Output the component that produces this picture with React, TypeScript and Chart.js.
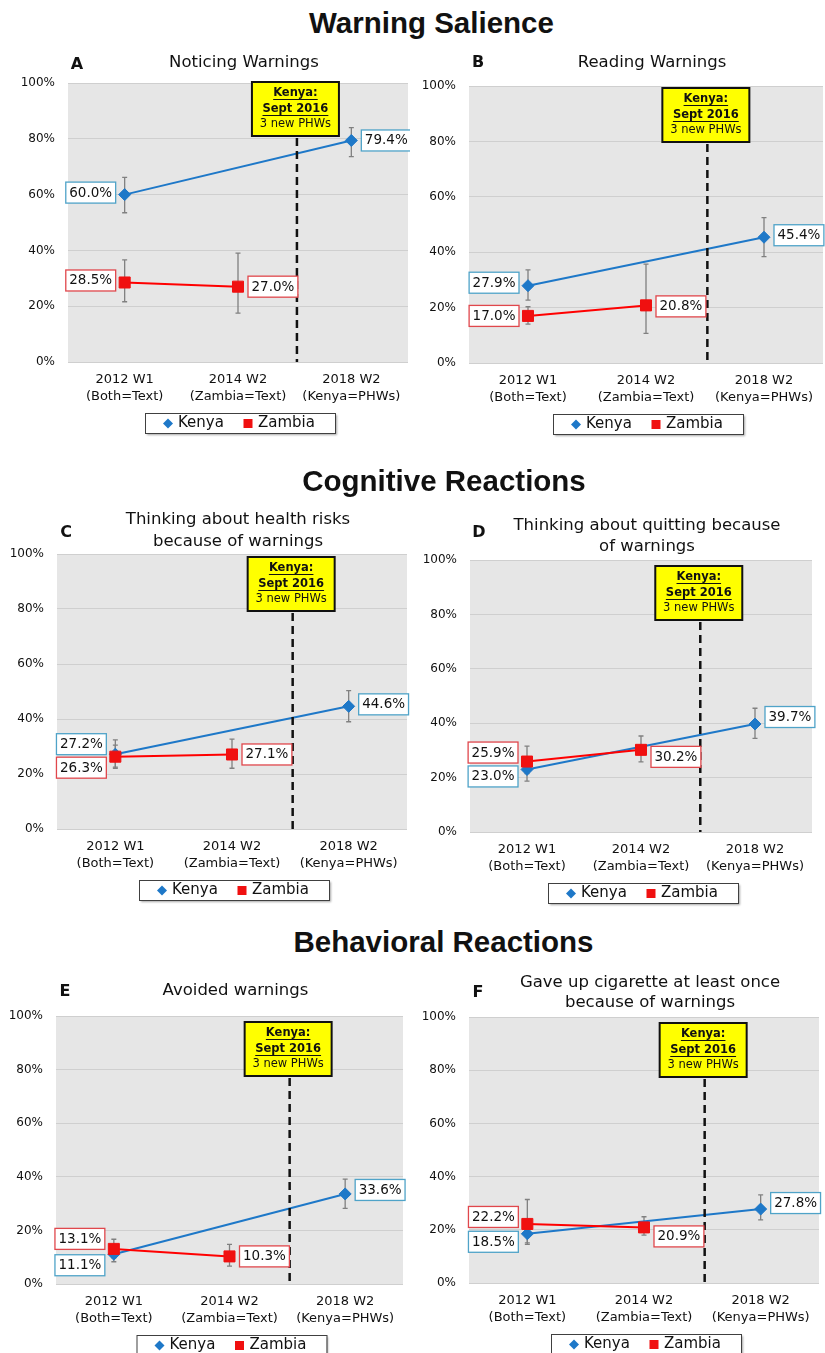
import React, { useEffect, useRef } from 'react';
import { Chart, registerables } from 'chart.js';

Chart.register(...registerables);

// ---------- DATA ----------
const categories: string[][] = [
  ['2012 W1', '(Both=Text)'],
  ['2014 W2', '(Zambia=Text)'],
  ['2018 W2', '(Kenya=PHWs)'],
];
const seriesNames = ['Kenya', 'Zambia'];
const yTickValues = [0, 20, 40, 60, 80, 100];
const sectionTitles = ['Warning Salience', 'Cognitive Reactions', 'Behavioral Reactions'];
const panelLetters = ['A', 'B', 'C', 'D', 'E', 'F'];
const panelTitles: string[][] = [
  ['Noticing Warnings'],
  ['Reading Warnings'],
  ['Thinking about health risks', 'because of warnings'],
  ['Thinking about quitting because', 'of warnings'],
  ['Avoided warnings'],
  ['Gave up cigarette at least once', 'because of warnings'],
];
const annotationLines = ['Kenya:', 'Sept 2016', '3 new PHWs'];
// Sept 2016 sits between the 2014 W2 and 2018 W2 waves on the category axis
const policyChangeIndex = 1.52;

// A: Noticing warnings
const noticingKenya = [60.0, null, 79.4];
const noticingKenyaLow = [53.5, null, 73.6];
const noticingKenyaHigh = [66.2, null, 84.0];
const noticingZambia = [28.5, 27.0, null];
const noticingZambiaLow = [21.6, 17.5, null];
const noticingZambiaHigh = [36.6, 39.0, null];

// B: Reading warnings
const readingKenya = [27.9, null, 45.4];
const readingKenyaLow = [22.7, null, 38.4];
const readingKenyaHigh = [33.6, null, 52.5];
const readingZambia = [17.0, 20.8, null];
const readingZambiaLow = [14.0, 10.7, null];
const readingZambiaHigh = [20.3, 35.7, null];

// C: Thinking about health risks
const risksKenya = [27.2, null, 44.6];
const risksKenyaLow = [22.5, null, 39.0];
const risksKenyaHigh = [32.4, null, 50.3];
const risksZambia = [26.3, 27.1, null];
const risksZambiaLow = [22.1, 22.1, null];
const risksZambiaHigh = [30.5, 32.7, null];

// D: Thinking about quitting
const quittingKenya = [23.0, null, 39.7];
const quittingKenyaLow = [18.7, null, 34.4];
const quittingKenyaHigh = [27.5, null, 45.5];
const quittingZambia = [25.9, 30.2, null];
const quittingZambiaLow = [21.5, 25.8, null];
const quittingZambiaHigh = [31.6, 35.3, null];

// E: Avoided warnings
const avoidedKenya = [11.1, null, 33.6];
const avoidedKenyaLow = [8.3, null, 28.2];
const avoidedKenyaHigh = [14.0, null, 39.1];
const avoidedZambia = [13.1, 10.3, null];
const avoidedZambiaLow = [9.8, 6.7, null];
const avoidedZambiaHigh = [16.7, 14.8, null];

// F: Gave up cigarette
const gaveUpKenya = [18.5, null, 27.8];
const gaveUpKenyaLow = [15.1, null, 23.7];
const gaveUpKenyaHigh = [21.8, null, 33.1];
const gaveUpZambia = [22.2, 20.9, null];
const gaveUpZambiaLow = [14.5, 18.0, null];
const gaveUpZambiaHigh = [31.4, 24.9, null];

// ---------- STYLE / LAYOUT ----------
const FONT = '"DejaVu Sans", "Liberation Sans", sans-serif';
const KENYA = '#1E78C8';
const ZAMBIA = '#F01010';
const KENYA_LABEL_BORDER = '#4FA3C8';
const ZAMBIA_LABEL_BORDER = '#E0474C';
const PLOT_BG = '#E6E6E6';
const GRID = '#CFCFCF';
const YW = 50;
const XH = 45;

type Rect = { x: number; y: number; w: number; h: number };
type Plot = { l: number; t: number; r: number; b: number };

interface PanelCfg {
  index: number;
  canvas: Rect;
  plot: Plot;
  titleY: number[];
  letterY: number;
  boxTop: number;
  kenya: (number | null)[];
  kenyaLow: (number | null)[];
  kenyaHigh: (number | null)[];
  zambia: (number | null)[];
  zambiaLow: (number | null)[];
  zambiaHigh: (number | null)[];
  kenyaDy: number[];
  zambiaDy: number[];
}

const panels: PanelCfg[] = [
  {
    index: 0, canvas: { x: 0, y: 40, w: 410, h: 400 }, plot: { l: 68, t: 83, r: 408, b: 362 },
    titleY: [63], letterY: 65, boxTop: 82,
    kenya: noticingKenya, kenyaLow: noticingKenyaLow, kenyaHigh: noticingKenyaHigh,
    zambia: noticingZambia, zambiaLow: noticingZambiaLow, zambiaHigh: noticingZambiaHigh,
    kenyaDy: [-2, 0, 0], zambiaDy: [-2, 0, 0],
  },
  {
    index: 1, canvas: { x: 410, y: 40, w: 415, h: 400 }, plot: { l: 469, t: 86, r: 823, b: 363 },
    titleY: [63], letterY: 63, boxTop: 88,
    kenya: readingKenya, kenyaLow: readingKenyaLow, kenyaHigh: readingKenyaHigh,
    zambia: readingZambia, zambiaLow: readingZambiaLow, zambiaHigh: readingZambiaHigh,
    kenyaDy: [-3, 0, -2], zambiaDy: [0, 1, 0],
  },
  {
    index: 2, canvas: { x: 0, y: 495, w: 410, h: 420 }, plot: { l: 57, t: 554, r: 407, b: 829 },
    titleY: [520, 542], letterY: 533, boxTop: 557,
    kenya: risksKenya, kenyaLow: risksKenyaLow, kenyaHigh: risksKenyaHigh,
    zambia: risksZambia, zambiaLow: risksZambiaLow, zambiaHigh: risksZambiaHigh,
    kenyaDy: [-10, 0, -2], zambiaDy: [11, 0, 0],
  },
  {
    index: 3, canvas: { x: 410, y: 495, w: 415, h: 420 }, plot: { l: 470, t: 560, r: 812, b: 832 },
    titleY: [526, 547], letterY: 533, boxTop: 566,
    kenya: quittingKenya, kenyaLow: quittingKenyaLow, kenyaHigh: quittingKenyaHigh,
    zambia: quittingZambia, zambiaLow: quittingZambiaLow, zambiaHigh: quittingZambiaHigh,
    kenyaDy: [7, 0, -7], zambiaDy: [-9, 7, 0],
  },
  {
    index: 4, canvas: { x: 0, y: 960, w: 410, h: 393 }, plot: { l: 56, t: 1016, r: 403, b: 1284 },
    titleY: [991], letterY: 992, boxTop: 1022,
    kenya: avoidedKenya, kenyaLow: avoidedKenyaLow, kenyaHigh: avoidedKenyaHigh,
    zambia: avoidedZambia, zambiaLow: avoidedZambiaLow, zambiaHigh: avoidedZambiaHigh,
    kenyaDy: [11, 0, -4], zambiaDy: [-10, 0, 0],
  },
  {
    index: 5, canvas: { x: 410, y: 960, w: 415, h: 393 }, plot: { l: 469, t: 1017, r: 819, b: 1283 },
    titleY: [983, 1003], letterY: 993, boxTop: 1023,
    kenya: gaveUpKenya, kenyaLow: gaveUpKenyaLow, kenyaHigh: gaveUpKenyaHigh,
    zambia: gaveUpZambia, zambiaLow: gaveUpZambiaLow, zambiaHigh: gaveUpZambiaHigh,
    kenyaDy: [8, 0, -6], zambiaDy: [-7, 9, 0],
  },
];

const sectionLayout = [
  { cx: 431.5, top: 8 },
  { cx: 444, top: 466 },
  { cx: 443.5, top: 927 },
];

function makeDecor(cfg: PanelCfg) {
  const oy = cfg.canvas.y;
  return {
    id: 'panelDecor' + cfg.index,
    beforeDraw(chart: any) {
      const { ctx, chartArea: a } = chart;
      ctx.save();
      ctx.fillStyle = PLOT_BG;
      ctx.fillRect(a.left, a.top, a.right - a.left, a.bottom - a.top);
      ctx.restore();
    },
    beforeDatasetsDraw(chart: any) {
      const { ctx } = chart;
      const ys = chart.scales.y;
      ctx.save();
      ctx.strokeStyle = '#808080';
      ctx.lineWidth = 1.3;
      chart.data.datasets.forEach((ds: any, di: number) => {
        const meta = chart.getDatasetMeta(di);
        ds.data.forEach((v: number | null, i: number) => {
          if (v == null || ds.low[i] == null) return;
          const x = meta.data[i].x;
          const y1 = ys.getPixelForValue(ds.low[i]);
          const y2 = ys.getPixelForValue(ds.high[i]);
          ctx.beginPath();
          ctx.moveTo(x, y1); ctx.lineTo(x, y2);
          ctx.moveTo(x - 2.5, y1); ctx.lineTo(x + 2.5, y1);
          ctx.moveTo(x - 2.5, y2); ctx.lineTo(x + 2.5, y2);
          ctx.stroke();
        });
      });
      ctx.restore();
    },
    afterDatasetsDraw(chart: any) {
      const { ctx, chartArea: a } = chart;
      const xs = chart.scales.x;
      const ys = chart.scales.y;
      const dashX = xs.getPixelForValue(policyChangeIndex);
      const boxW = 87;
      const boxH = 54;
      const boxL = dashX - 45;
      const boxT = cfg.boxTop - oy;
      ctx.save();
      // dashed vertical line
      ctx.strokeStyle = '#111';
      ctx.lineWidth = 2.5;
      ctx.setLineDash([8, 5]);
      ctx.beginPath();
      ctx.moveTo(dashX, boxT + boxH + 2);
      ctx.lineTo(dashX, a.bottom);
      ctx.stroke();
      ctx.setLineDash([]);
      // yellow annotation box
      ctx.fillStyle = '#FFFF00';
      ctx.fillRect(boxL, boxT, boxW, boxH);
      ctx.strokeStyle = '#111';
      ctx.lineWidth = 2;
      ctx.strokeRect(boxL, boxT, boxW, boxH);
      const cx = boxL + boxW / 2;
      const lineYs = [boxT + 11, boxT + 27, boxT + 42.5];
      ctx.textAlign = 'center';
      ctx.textBaseline = 'middle';
      ctx.fillStyle = '#111';
      annotationLines.forEach((t, i) => {
        const bold = i < 2;
        ctx.font = (bold ? 'bold ' : '') + '11.5px ' + FONT;
        ctx.fillText(t, cx, lineYs[i]);
        if (bold) {
          const w = ctx.measureText(t).width;
          ctx.lineWidth = 1;
          ctx.strokeStyle = '#111';
          ctx.beginPath();
          ctx.moveTo(cx - w / 2, lineYs[i] + 6.5);
          ctx.lineTo(cx + w / 2, lineYs[i] + 6.5);
          ctx.stroke();
        }
      });
      // data labels
      ctx.font = '13.5px ' + FONT;
      chart.data.datasets.forEach((ds: any, di: number) => {
        const meta = chart.getDatasetMeta(di);
        ds.data.forEach((v: number | null, i: number) => {
          if (v == null) return;
          const pt = meta.data[i];
          const text = v.toFixed(1) + '%';
          const tw = ctx.measureText(text).width;
          const bw = tw + 7;
          const bh = 21;
          const cy = ys.getPixelForValue(v) + ds.labelDy[i];
          const bx = i === 0 ? pt.x - 9 - bw : pt.x + 10;
          ctx.fillStyle = '#FFFFFF';
          ctx.fillRect(bx, cy - bh / 2, bw, bh);
          ctx.strokeStyle = ds.labelBorder;
          ctx.lineWidth = 1.3;
          ctx.strokeRect(bx, cy - bh / 2, bw, bh);
          ctx.fillStyle = '#111';
          ctx.textAlign = 'center';
          ctx.textBaseline = 'middle';
          ctx.fillText(text, bx + bw / 2, cy + 0.5);
        });
      });
      ctx.restore();
    },
    afterDraw(chart: any) {
      const { ctx, chartArea: a } = chart;
      const pcx = (a.left + a.right) / 2;
      ctx.save();
      // panel title
      ctx.fillStyle = '#111';
      ctx.textAlign = 'center';
      ctx.textBaseline = 'middle';
      ctx.font = '16.5px ' + FONT;
      panelTitles[cfg.index].forEach((t, i) => {
        ctx.fillText(t, pcx + 6, cfg.titleY[i] - oy);
      });
      // panel letter
      ctx.font = 'bold 16px ' + FONT;
      ctx.fillText(panelLetters[cfg.index], a.left + 9, cfg.letterY - oy);
      // legend
      const lw = 190;
      const lh = 20;
      const ll = pcx + 2 - lw / 2;
      const lt = a.bottom + 51;
      ctx.save();
      ctx.shadowColor = 'rgba(0,0,0,0.35)';
      ctx.shadowOffsetX = 1.5;
      ctx.shadowOffsetY = 1.5;
      ctx.shadowBlur = 2;
      ctx.fillStyle = '#FFFFFF';
      ctx.fillRect(ll, lt, lw, lh);
      ctx.restore();
      ctx.strokeStyle = '#404040';
      ctx.lineWidth = 1;
      ctx.strokeRect(ll + 0.5, lt + 0.5, lw, lh);
      const my = lt + lh / 2 + 0.5;
      const ds = chart.data.datasets;
      // Kenya diamond
      ctx.fillStyle = ds[0].borderColor;
      ctx.beginPath();
      ctx.moveTo(ll + 23 - 5, my);
      ctx.lineTo(ll + 23, my - 5);
      ctx.lineTo(ll + 23 + 5, my);
      ctx.lineTo(ll + 23, my + 5);
      ctx.closePath();
      ctx.fill();
      // Zambia square
      ctx.fillStyle = ds[1].pointBackgroundColor;
      ctx.fillRect(ll + 103 - 4.5, my - 4.5, 9, 9);
      ctx.fillStyle = '#111';
      ctx.textAlign = 'left';
      ctx.font = '15px ' + FONT;
      ctx.fillText(ds[0].label, ll + 33, my);
      ctx.fillText(ds[1].label, ll + 113, my);
      ctx.restore();
    },
  };
}

function Panel({ cfg }: { cfg: PanelCfg }) {
  const ref = useRef<HTMLCanvasElement>(null);
  useEffect(() => {
    const c = cfg;
    const pad = {
      left: c.plot.l - c.canvas.x - YW,
      top: c.plot.t - c.canvas.y,
      right: c.canvas.x + c.canvas.w - c.plot.r,
      bottom: c.canvas.y + c.canvas.h - c.plot.b - XH,
    };
    const chart = new Chart(ref.current as HTMLCanvasElement, {
      type: 'line',
      data: {
        labels: categories as any,
        datasets: [
          {
            label: seriesNames[0],
            data: c.kenya,
            low: c.kenyaLow,
            high: c.kenyaHigh,
            labelDy: c.kenyaDy,
            labelBorder: KENYA_LABEL_BORDER,
            borderColor: KENYA,
            backgroundColor: KENYA,
            pointBackgroundColor: KENYA,
            pointBorderColor: KENYA,
            pointStyle: 'rectRot',
            pointRadius: 6,
            pointBorderWidth: 1,
            borderWidth: 2,
            spanGaps: true,
            order: 1,
          } as any,
          {
            label: seriesNames[1],
            data: c.zambia,
            low: c.zambiaLow,
            high: c.zambiaHigh,
            labelDy: c.zambiaDy,
            labelBorder: ZAMBIA_LABEL_BORDER,
            borderColor: '#FF0000',
            backgroundColor: ZAMBIA,
            pointBackgroundColor: ZAMBIA,
            pointBorderColor: ZAMBIA,
            pointStyle: 'rect',
            pointRadius: 7.8,
            pointBorderWidth: 1,
            borderWidth: 2,
            spanGaps: true,
            order: 0,
          } as any,
        ],
      },
      options: {
        animation: false,
        responsive: false,
        devicePixelRatio: 1,
        layout: { padding: pad, autoPadding: false },
        plugins: {
          legend: { display: false },
          title: { display: false },
          tooltip: { enabled: false },
        },
        scales: {
          x: {
            offset: true,
            grid: { display: false, drawTicks: false, offset: true },
            border: { display: false },
            ticks: {
              font: { size: 13, family: FONT, lineHeight: 17 / 13 },
              color: '#111',
              padding: 9,
              autoSkip: false,
              maxRotation: 0,
            },
            afterFit: (s: any) => {
              s.height = XH;
              s.paddingLeft = 0;
              s.paddingRight = 0;
            },
          },
          y: {
            min: yTickValues[0],
            max: yTickValues[yTickValues.length - 1],
            afterBuildTicks: (s: any) => { s.ticks = yTickValues.map((v) => ({ value: v })); },
            ticks: {
              callback: (v: any) => v + '%',
              font: { size: 12, family: FONT },
              color: '#111',
              padding: 13,
            },
            grid: { color: GRID, drawTicks: false, lineWidth: 1 },
            border: { display: false },
            afterFit: (s: any) => { s.width = YW; },
          },
        },
      } as any,
      plugins: [makeDecor(c)],
    });
    return () => chart.destroy();
  }, [cfg]);
  return (
    <canvas
      ref={ref}
      width={cfg.canvas.w}
      height={cfg.canvas.h}
      style={{ position: 'absolute', left: cfg.canvas.x, top: cfg.canvas.y, width: cfg.canvas.w, height: cfg.canvas.h }}
    />
  );
}

export default function App() {
  return (
    <div style={{ position: 'absolute', left: 0, top: 0, width: 825, height: 1353, background: '#fff', overflow: 'hidden' }}>
      {sectionTitles.map((t, i) => (
        <div
          key={t}
          style={{
            position: 'absolute',
            left: sectionLayout[i].cx - 300,
            top: sectionLayout[i].top,
            width: 600,
            textAlign: 'center',
            fontFamily: '"Liberation Sans", Arial, sans-serif',
            fontWeight: 'bold',
            fontSize: 29.5,
            lineHeight: '29.5px',
            color: '#111',
            zIndex: 2,
          }}
        >
          {t}
        </div>
      ))}
      {panels.map((p) => (
        <Panel key={p.index} cfg={p} />
      ))}
    </div>
  );
}
